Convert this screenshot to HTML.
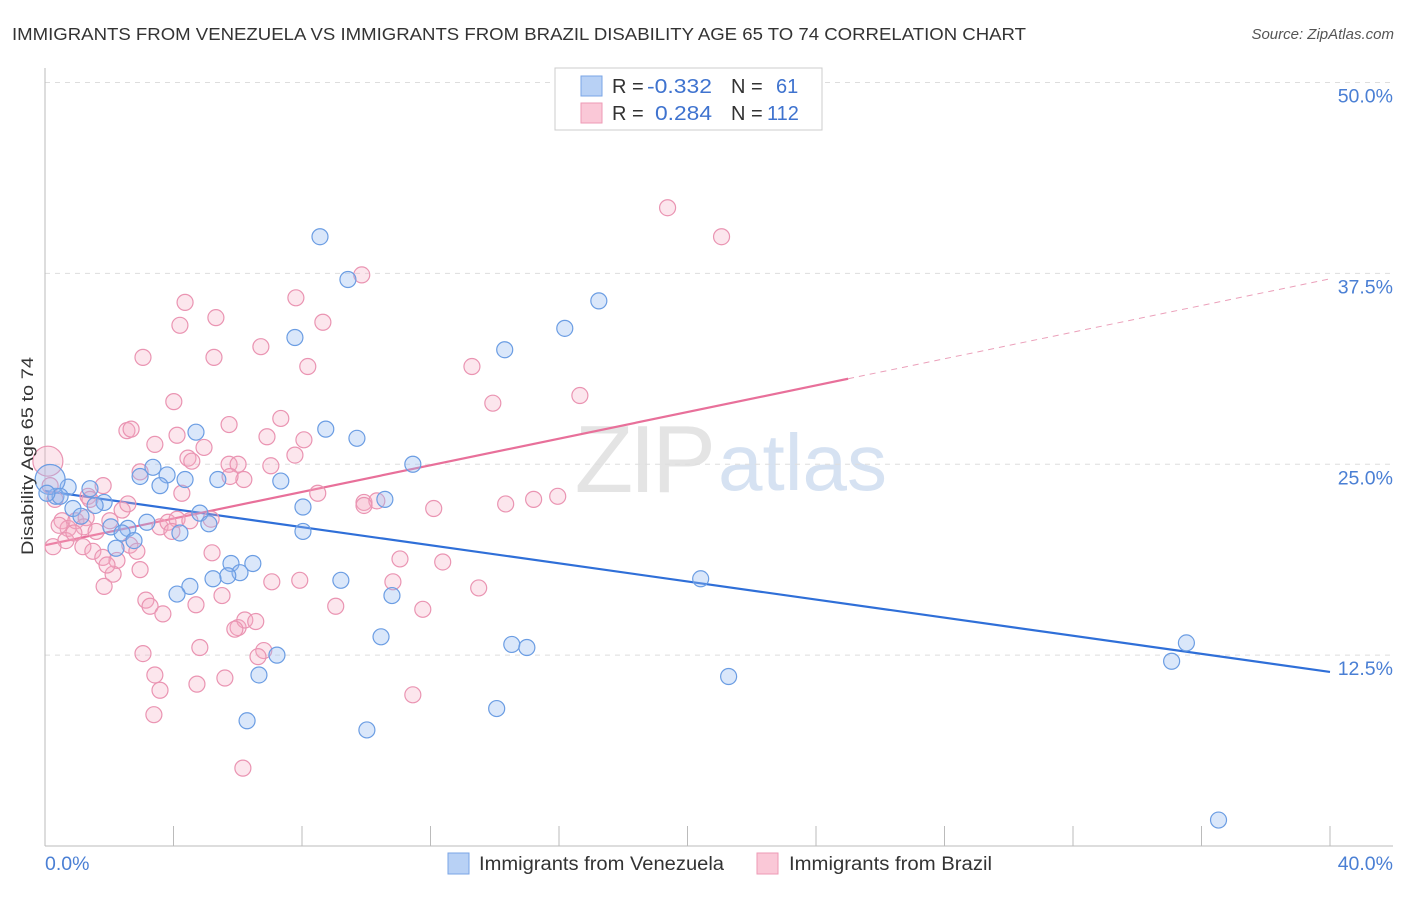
<!DOCTYPE html>
<html><head><meta charset="utf-8"><style>
body{margin:0;background:#fff;font-family:"Liberation Sans",sans-serif;}
svg text{font-family:"Liberation Sans",sans-serif;}
</style></head><body>
<svg id="chart" width="1406" height="892" xmlns="http://www.w3.org/2000/svg">
<text x="12" y="40" font-size="17.5" fill="#333" textLength="1014" lengthAdjust="spacingAndGlyphs">IMMIGRANTS FROM VENEZUELA VS IMMIGRANTS FROM BRAZIL DISABILITY AGE 65 TO 74 CORRELATION CHART</text>
<text x="1394" y="39" font-size="15" fill="#555" font-style="italic" text-anchor="end">Source: ZipAtlas.com</text>
<g>
<text x="712" y="492" font-size="96" font-family="Liberation Serif" fill="#e4e4e4" text-anchor="end" letter-spacing="-4">ZIP</text>
<text x="718" y="490" font-size="80" fill="#d6e2f2">atlas</text>
</g>
<g id="grid"></g>
<g id="axes"></g>
<g id="trend"></g>
<g id="points"></g>
<g>
<rect x="555" y="68" width="267" height="62" fill="#fff" stroke="#ccc"/>
<rect x="581" y="76" width="21" height="20" fill="#b8d1f5" stroke="#7aa5e6"/>
<text x="612" y="93" font-size="20" fill="#333">R =</text>
<text x="647" y="93" font-size="20" fill="#3f73cf" textLength="65" lengthAdjust="spacingAndGlyphs">-0.332</text>
<text x="731" y="93" font-size="20" fill="#333">N =</text>
<text x="776" y="93" font-size="20" fill="#3f73cf">61</text>
<rect x="581" y="103" width="21" height="20" fill="#fac8d7" stroke="#ee9ab5"/>
<text x="612" y="120" font-size="20" fill="#333">R =</text>
<text x="655" y="120" font-size="20" fill="#3f73cf" textLength="57" lengthAdjust="spacingAndGlyphs">0.284</text>
<text x="731" y="120" font-size="20" fill="#333">N =</text>
<text x="767" y="120" font-size="20" fill="#3f73cf">112</text>
</g>
<text transform="translate(33,456) rotate(-90)" font-size="17" fill="#333" text-anchor="middle" textLength="198" lengthAdjust="spacingAndGlyphs">Disability Age 65 to 74</text>
<g>
<rect x="448" y="853" width="21" height="21" fill="#b8d1f5" stroke="#7aa5e6"/>
<text x="479" y="870" font-size="19" fill="#333" textLength="245" lengthAdjust="spacingAndGlyphs">Immigrants from Venezuela</text>
<rect x="757" y="853" width="21" height="21" fill="#fac8d7" stroke="#ee9ab5"/>
<text x="789" y="870" font-size="19" fill="#333" textLength="203" lengthAdjust="spacingAndGlyphs">Immigrants from Brazil</text>
</g>
</svg>
<script>
const yTicks=[12.5,25,37.5,50];
const yTickLabels=["12.5%","25.0%","37.5%","50.0%"];
const xTickVals=[0,4,8,12,16,20,24,28,32,36,40];
const xEndLabels=["0.0%","40.0%"];
const venX=[8.56,9.43,17.24,16.18,14.31,7.78,4.70,8.74,9.71,11.45,3.36,3.80,2.96,3.58,4.36,5.38,7.34,0.72,1.40,0.34,0.87,1.84,1.56,1.12,4.82,8.03,10.58,3.17,2.05,2.58,2.40,4.20,5.10,8.03,2.77,2.21,5.79,6.47,6.07,5.69,5.23,4.51,4.11,9.21,10.80,20.41,10.46,14.53,15.00,7.22,35.53,35.07,6.66,21.28,14.06,6.29,10.02,36.53,0.16,0.47,0.06];
const venY=[39.9,37.1,35.7,33.9,32.5,33.3,27.1,27.3,26.7,25.0,24.8,24.3,24.2,23.6,24.0,24.0,23.9,23.5,23.4,22.9,22.1,22.5,22.3,21.6,21.8,22.2,22.7,21.2,20.9,20.8,20.5,20.5,21.1,20.6,20.0,19.5,18.5,18.5,17.9,17.7,17.5,17.0,16.5,17.4,16.4,17.5,13.7,13.2,13.0,12.5,13.3,12.1,11.2,11.1,9.0,8.2,7.6,1.7,24.0,22.9,23.1];
const venBig=[58];
const braX=[19.38,21.06,9.86,7.81,4.36,5.32,4.20,8.65,6.72,3.05,5.26,8.18,13.29,4.01,13.94,16.65,7.34,5.73,2.55,2.68,4.11,3.42,4.95,6.91,8.06,7.78,4.45,4.57,5.73,6.01,7.03,2.96,1.81,4.26,6.19,8.49,9.93,10.33,9.93,12.10,14.34,15.21,15.96,1.34,1.40,0.53,0.72,0.96,1.28,1.21,1.59,2.02,2.40,2.58,0.65,0.90,1.18,1.49,1.80,2.24,2.64,2.86,2.96,2.12,1.84,1.93,3.58,3.83,4.11,4.51,3.95,5.20,3.14,3.27,3.67,4.70,5.51,6.01,6.22,6.56,7.06,7.93,9.05,10.83,11.05,12.38,13.50,11.76,3.05,3.42,3.58,4.73,4.82,5.60,6.81,6.63,3.39,11.45,6.16,0.09,0.31,0.44,0.25,5.17,5.91,0.16,5.76];
const braY=[41.8,39.9,37.4,35.9,35.6,34.6,34.1,34.3,32.7,32.0,32.0,31.4,31.4,29.1,29.0,29.5,28.0,27.6,27.2,27.3,26.9,26.3,26.1,26.8,26.6,25.6,25.4,25.2,25.0,25.0,24.9,24.5,23.6,23.1,24.0,23.1,22.5,22.6,22.3,22.1,22.4,22.7,22.9,22.9,22.7,21.3,20.8,21.3,21.5,20.9,20.6,21.3,22.0,22.4,20.0,20.5,19.6,19.3,18.9,18.7,19.7,19.3,18.1,17.8,17.0,18.4,20.9,21.2,21.4,21.3,20.6,19.2,16.1,15.7,15.2,15.8,16.4,14.3,14.8,14.7,17.3,17.4,15.7,17.3,18.8,18.6,16.9,15.5,12.6,11.2,10.2,10.6,13.0,11.0,12.8,12.4,8.6,9.9,5.1,25.2,22.7,21.0,19.6,21.4,14.2,23.6,24.2];
const braBig=[99];
const venTrend=[23.25,11.4];
const braTrend=[19.7,0.436];
const braSolidEnd=25;

const NS="http://www.w3.org/2000/svg";
const X0=45,X1=1330,Y0=846,YPX=15.27;
const xs=v=>X0+(X1-X0)*v/40;
const ys=v=>Y0-v*YPX;
function mk(tag,attrs,parent){const e=document.createElementNS(NS,tag);for(const k in attrs)e.setAttribute(k,attrs[k]);parent.appendChild(e);return e;}
const grid=document.getElementById('grid'),axes=document.getElementById('axes'),trend=document.getElementById('trend'),pts=document.getElementById('points');
yTicks.forEach((t,i)=>{
  const l=mk('line',{x1:X0,x2:1393,y1:ys(t),y2:ys(t),stroke:'#ddd','stroke-dasharray':'5,5'},grid);
  
  
  const tx=mk('text',{x:1393,y:ys(t)+20,'font-size':19.5,fill:'#4a7fd4','text-anchor':'end'},axes);
  tx.textContent=yTickLabels[i];
  
  
});
const ya=mk('line',{x1:X0,x2:X0,y1:68,y2:Y0,stroke:'#bbb'},axes);


const xa=mk('line',{x1:X0,x2:1393,y1:Y0,y2:Y0,stroke:'#bbb'},axes);


xTickVals.forEach(v=>{
  const t=mk('line',{x1:xs(v),x2:xs(v),y1:826,y2:846,stroke:'#bbb'},axes);
  
  
});
[[0,'start',45],[40,'end',1393]].forEach((d,i)=>{
  const t=mk('text',{x:d[2],y:870,'font-size':19.5,fill:'#4a7fd4','text-anchor':d[1]},axes);
  t.textContent=xEndLabels[i];
  
  
});
function dots(X,Y,big,fill,stroke,name){
  X.forEach((x,i)=>{
    const c=mk('circle',{cx:xs(x),cy:ys(Y[i]),r:big.includes(i)?15:8,fill:fill,stroke:stroke,'stroke-width':1.2},pts);
    
    
  });
}
dots(braX,braY,braBig,'rgba(246,172,197,0.3)','#ea94b2','brazil-point');
dots(venX,venY,venBig,'rgba(150,185,240,0.35)','#6b9de3','venezuela-point');
const vt=mk('line',{x1:xs(0),y1:ys(venTrend[0]),x2:xs(40),y2:ys(venTrend[1]),stroke:'#2f6fd8','stroke-width':2.2},trend);


const bf=v=>braTrend[0]+braTrend[1]*v;
const bt=mk('line',{x1:xs(0),y1:ys(bf(0)),x2:xs(braSolidEnd),y2:ys(bf(braSolidEnd)),stroke:'#e8709a','stroke-width':2.2},trend);


const bd=mk('line',{x1:xs(braSolidEnd),y1:ys(bf(braSolidEnd)),x2:xs(40),y2:ys(bf(40)),stroke:'#eba0ba','stroke-width':1,'stroke-dasharray':'6,5'},trend);


</script>
</body></html>
